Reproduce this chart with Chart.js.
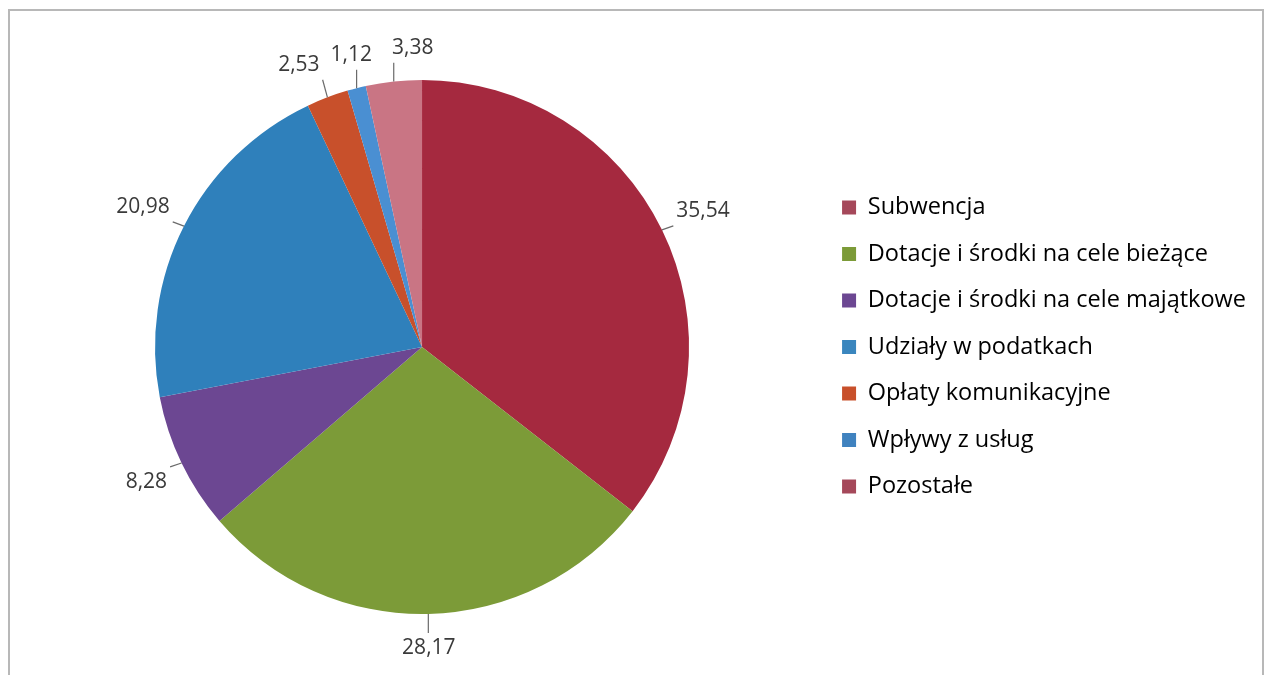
<!DOCTYPE html>
<html lang="pl">
<head>
<meta charset="utf-8">
<title>Struktura dochodów</title>
<script src="https://cdn.jsdelivr.net/npm/chart.js@4.4.1/dist/chart.umd.min.js"></script>
<style>
    html, body { margin: 0; padding: 0; background: #fff; }
    #wrap { position: relative; width: 1270px; height: 675px; }
    #frame {
        position: absolute; left: 8px; top: 9px; width: 1256px; height: 680px;
        border: 2px solid #b8b8b8; box-sizing: border-box;
    }
    canvas { position: absolute; left: 0; top: 0; }
</style>
</head>
<body>
<div id="wrap">
    <div id="frame"></div>
    <canvas id="pie" width="1270" height="675"></canvas>
</div>
<script>
    "use strict";

    // data
    var categories = [
        "Subwencja",
        "Dotacje i środki na cele bieżące",
        "Dotacje i środki na cele majątkowe",
        "Udziały w podatkach",
        "Opłaty komunikacyjne",
        "Wpływy z usług",
        "Pozostałe"
    ];
    var shares = [35.54, 28.17, 8.28, 20.98, 2.53, 1.12, 3.38];
    var valueLabels = ["35,54", "28,17", "8,28", "20,98", "2,53", "1,12", "3,38"];

    var sliceColors = ["#a5293f", "#7c9b38", "#6c4792", "#2f80bb", "#c8502b", "#4a8fd2", "#c97584"];
    var legendColors = ["#a5485a", "#7c9b38", "#6c4792", "#3a86be", "#c8502b", "#3f82bf", "#a5485a"];

    var FONT = "'Open Sans', sans-serif";

    // outside labels with leader lines
    var outsideLabels = {
        id: "outsideLabels",
        afterDatasetsDraw: function (chart) {
            var ctx = chart.ctx;
            var meta = chart.getDatasetMeta(0);
            ctx.save();
            ctx.font = "21px " + FONT;
            ctx.fillStyle = "#3a3a3a";
            ctx.strokeStyle = "#6a6a6a";
            ctx.lineWidth = 1.2;
            var placed = [];
            meta.data.forEach(function (arc, i) {
                var a = (arc.startAngle + arc.endAngle) / 2;
                var dx = Math.cos(a), dy = Math.sin(a);
                var r = arc.outerRadius;
                var ex = arc.x + dx * r, ey = arc.y + dy * r;
                var gap = Math.abs(dy) > 0.9 ? 22 : 16;
                var px = arc.x + dx * (r + gap), py = arc.y + dy * (r + gap);
                var txt = valueLabels[i];
                var w = ctx.measureText(txt).width, h = 24;
                var bx, by;
                if (dx > 0.3) bx = px; else if (dx < -0.3) bx = px - w; else bx = px - w / 2;
                if (dy > 0.3) by = py; else if (dy < -0.3) by = py - h; else by = py - h / 2;
                // keep small neighbouring labels apart
                placed.forEach(function (b) {
                    if (bx < b.x + b.w + 10 && bx + w + 10 > b.x && by < b.y + b.h && by + h > b.y) {
                        bx = b.x + b.w + 20;
                    }
                });
                placed.push({ x: bx, y: by, w: w, h: h });
                ctx.textBaseline = "middle";
                ctx.textAlign = "left";
                ctx.fillText(txt, bx, by + h / 2);
                // leader line to nearest box point
                var lx = Math.max(bx, Math.min(ex, bx + w));
                var ly = Math.max(by, Math.min(ey, by + h));
                if (Math.hypot(lx - ex, ly - ey) > 12) {
                    ctx.beginPath();
                    ctx.moveTo(ex, ey);
                    ctx.lineTo(lx + (lx > ex ? -3 : lx < ex ? 3 : 0), ly + (ly > ey ? -3 : 3));
                    ctx.stroke();
                }
            });
            ctx.restore();
        }
    };

    var ctx1 = document.getElementById("pie").getContext("2d");
    var pieChart = new Chart(ctx1, {
        type: "pie",
        data: {
            labels: categories,
            datasets: [
                {
                    data: shares,
                    backgroundColor: sliceColors,
                    borderWidth: 0
                }
            ]
        },
        options: {
            responsive: false,
            animation: false,
            layout: {
                padding: { left: 25, top: 80, bottom: 61, right: 14 }
            },
            plugins: {
                tooltip: { enabled: false },
                legend: {
                    position: "right",
                    labels: {
                        boxWidth: 14,
                        boxHeight: 14,
                        padding: 23,
                        color: "#2a2a2a",
                        font: { family: FONT, size: 23.5 },
                        generateLabels: function (chart) {
                            return categories.map(function (c, i) {
                                return {
                                    text: c,
                                    fillStyle: legendColors[i],
                                    strokeStyle: legendColors[i],
                                    lineWidth: 0,
                                    hidden: false,
                                    index: i
                                };
                            });
                        }
                    }
                }
            }
        },
        plugins: [outsideLabels]
    });
</script>
</body>
</html>
